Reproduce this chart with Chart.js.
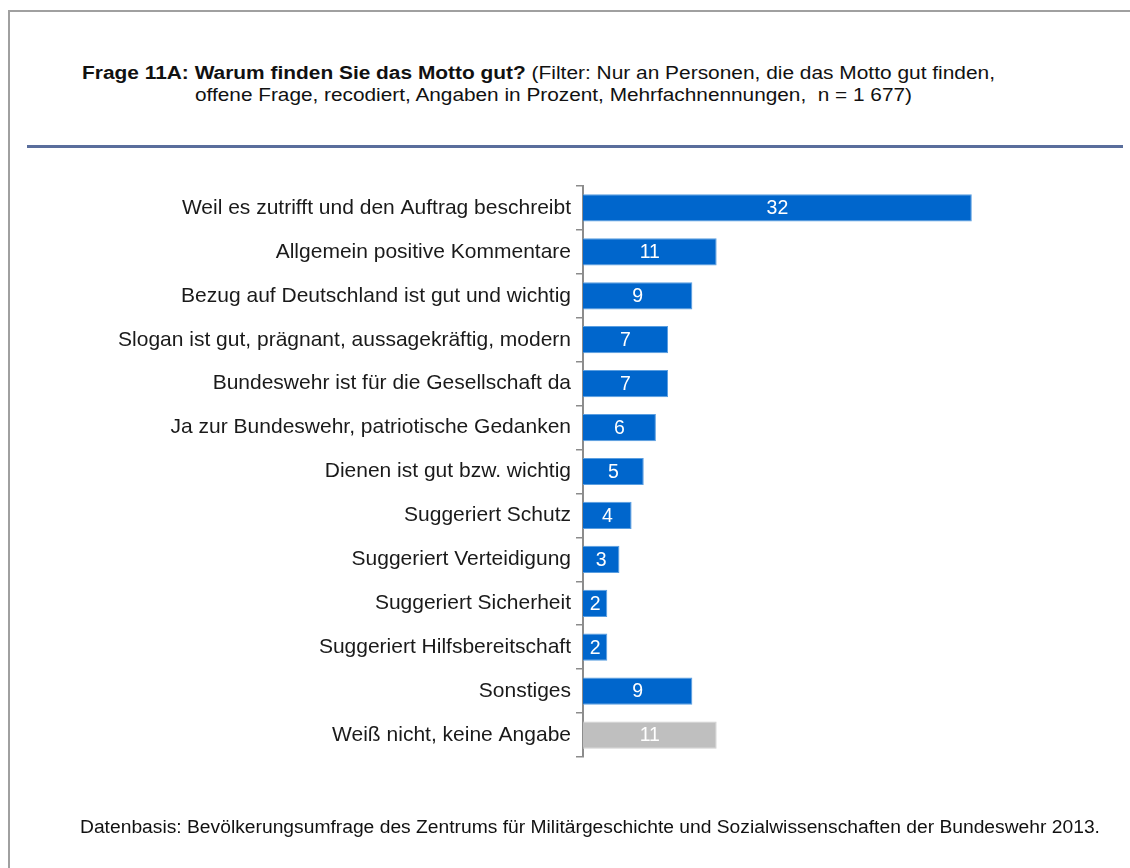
<!DOCTYPE html>
<html>
<head>
<meta charset="utf-8">
<script src="https://cdn.jsdelivr.net/npm/chart.js@4"></script>
<style>
  body { margin:0; width:1130px; height:868px; background:#fff; position:relative; overflow:hidden;
         font-family:"Liberation Sans", Arial, sans-serif; color:#111; }
  #frameTop { position:absolute; left:8px; top:10px; width:1122px; height:0; border-top:2px solid #a0a0a0; }
  #frameLeft { position:absolute; left:8px; top:10px; width:0; height:858px; border-left:2px solid #a0a0a0; }
  .txt { position:absolute; white-space:nowrap; transform-origin:0 0; line-height:1; }
  #t1 { left:82px; top:64px; font-size:18.7px; }
  #t2 { left:195px; top:86px; font-size:18.7px; }
  #sep { position:absolute; left:27px; top:145px; width:1096px; height:3px; background:#5a6e9c; }
  #foot { position:absolute; left:80px; top:818px; font-size:18px; }
  #wrap { position:absolute; left:0; top:0; width:1130px; height:868px; }
</style>
</head>
<body>
<div id="frameTop"></div>
<div id="frameLeft"></div>
<div class="txt" id="t1" data-w="913"><b>Frage 11A: Warum finden Sie das Motto gut?</b> (Filter: Nur an Personen, die das Motto gut finden,</div>
<div class="txt" id="t2" data-w="717">offene Frage, recodiert, Angaben in Prozent, Mehrfachnennungen,&nbsp; n = 1 677)</div>
<div id="sep"></div>
<div id="wrap"><canvas id="chart" width="1130" height="868"></canvas></div>
<div class="txt" id="foot" data-w="1020">Datenbasis: Bevölkerungsumfrage des Zentrums für Militärgeschichte und Sozialwissenschaften der Bundeswehr 2013.</div>

<script>
// === DATA ===
const categories = [
  'Weil es zutrifft und den Auftrag beschreibt',
  'Allgemein positive Kommentare',
  'Bezug auf Deutschland ist gut und wichtig',
  'Slogan ist gut, prägnant, aussagekräftig, modern',
  'Bundeswehr ist für die Gesellschaft da',
  'Ja zur Bundeswehr, patriotische Gedanken',
  'Dienen ist gut bzw. wichtig',
  'Suggeriert Schutz',
  'Suggeriert Verteidigung',
  'Suggeriert Sicherheit',
  'Suggeriert Hilfsbereitschaft',
  'Sonstiges',
  'Weiß nicht, keine Angabe'
];
const values = [32, 11, 9, 7, 7, 6, 5, 4, 3, 2, 2, 9, 11];
const greyCategory = 'Weiß nicht, keine Angabe';

const blue = '#0066cc', blueEdge = '#5a9ee0';
const grey = '#bfbfbf', greyEdge = '#cfcfcf';
const FONT = '"Liberation Sans", Arial, sans-serif';

// stretch the header/footer lines to the widths seen in the picture
document.querySelectorAll('.txt').forEach(el=>{
  const w = el.getBoundingClientRect().width;
  el.style.transform = `scaleX(${(parseFloat(el.dataset.w)/w).toFixed(4)})`;
});

// === VALUE LABELS INSIDE BARS ===
const barLabels = {
  id: 'barLabels',
  afterDatasetsDraw(chart){
    const ctx = chart.ctx;
    const meta = chart.getDatasetMeta(0);
    ctx.save();
    ctx.font = `19.5px ${FONT}`;
    ctx.fillStyle = '#ffffff';
    ctx.textAlign = 'center';
    ctx.textBaseline = 'middle';
    meta.data.forEach((bar, i)=>{
      const x = (bar.x + bar.base)/2;
      ctx.fillText(String(values[i]), x, bar.y + 1);
    });
    ctx.restore();
  }
};

const ctx = document.getElementById('chart').getContext('2d');
new Chart(ctx, {
  type: 'bar',
  data: {
    labels: categories,
    datasets: [{
      data: values,
      backgroundColor: categories.map(c => c === greyCategory ? grey : blue),
      borderColor: categories.map(c => c === greyCategory ? greyEdge : blueEdge),
      borderWidth: 1,
      borderSkipped: 'start',
      barPercentage: 0.62,
      categoryPercentage: 1
    }]
  },
  plugins: [barLabels],
  options: {
    indexAxis: 'y',
    responsive: false,
    animation: false,
    devicePixelRatio: 1,
    layout: { padding: { top: 186, bottom: 111, left: 0, right: 61 } },
    plugins: { legend: { display: false }, tooltip: { enabled: false } },
    scales: {
      x: { display: false, min: 0, max: 40 },
      y: {
        afterFit(scale){ scale.width = 583; },
        grid: { offset: true, drawOnChartArea: false, color: '#8c8c8c', lineWidth: 1.5, tickLength: 7 },
        border: { color: '#8c8c8c', width: 2 },
        ticks: { color: '#1a1a1a', padding: 5, autoSkip: false, font: { family: FONT, size: 21 } }
      }
    }
  }
});
</script>
</body>
</html>
